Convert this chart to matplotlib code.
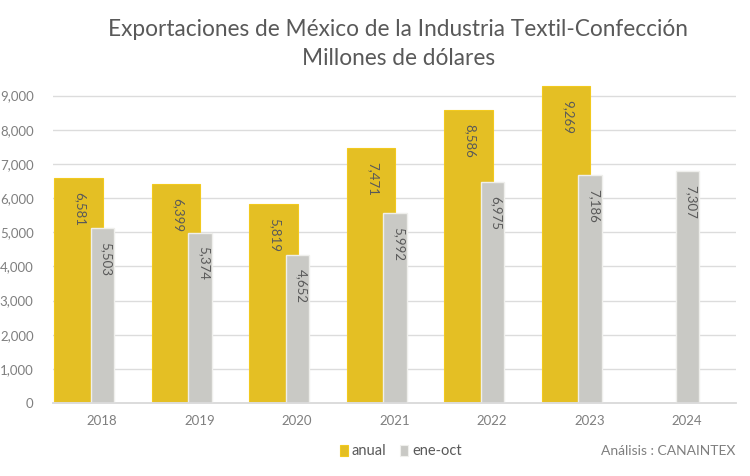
import numpy as np
import matplotlib.pyplot as plt

years = ['2018', '2019', '2020', '2021', '2022', '2023', '2024']
anual = [6581, 6399, 5819, 7471, 8586, 9269, None]
ene_oct = [5503, 5374, 4652, 5992, 6975, 7186, 7307]

plt.rcParams['font.family'] = ['Lato', 'DejaVu Sans']

fig = plt.figure(figsize=(7.5, 4.76), dpi=100)
ax = fig.add_axes([0.0707, 0.1534, 0.9103, 0.7033])
ax2 = ax.twinx()

x = np.arange(len(years))
ytop = 9800
ax.set_ylim(0, ytop)
ax2.set_ylim(0, ytop * 1.077)
ax.set_xlim(-0.5, len(years) - 0.5)

yellow = '#E4BF24'
grey = '#C9C9C5'
txt = '#595959'

a_x = [i for i, v in enumerate(anual) if v is not None]
a_v = [v for v in anual if v is not None]
ax.bar(np.array(a_x) - 0.24, a_v, width=0.5, color=yellow, edgecolor='#F2C91E',
       linewidth=0.8, zorder=2)
ax2.bar(x + 0.005, ene_oct, width=0.24, color=grey, edgecolor='#EFEFEC',
        linewidth=1.0, zorder=2)

for xi, v in zip(a_x, a_v):
    ax.annotate(f'{v:,}', (xi - 0.22, v), xytext=(0, -10), textcoords='offset points',
                rotation=270, ha='center', va='top', fontsize=9.5, color=txt)
for xi, v in zip(x, ene_oct):
    ax2.annotate(f'{v:,}', (xi + 0.045, v), xytext=(0, -10), textcoords='offset points',
                 rotation=270, ha='center', va='top', fontsize=9.5, color=txt)

ax.set_yticks(range(0, 10000, 1000))
ax.set_yticklabels([f'{t:,}' for t in range(0, 10000, 1000)])
ax.yaxis.grid(True, color='#DCDCDC', linewidth=1.0, zorder=0)
ax.set_axisbelow(True)
ax.tick_params(axis='y', length=0, labelsize=9.5, labelcolor='#7F7F7F', pad=14)
ax.set_xticks(x)
ax.set_xticklabels(years)
ax.tick_params(axis='x', length=0, labelsize=9.5, labelcolor='#7F7F7F', pad=9)
ax2.set_yticks([])

for a in (ax, ax2):
    for s in ('top', 'right', 'left'):
        a.spines[s].set_visible(False)
    a.spines['bottom'].set_color('#DCDCDC')
    a.spines['bottom'].set_linewidth(1.2)

fig.text(0.531, 0.937, 'Exportaciones de México de la Industria Textil-Confección',
         ha='center', va='center', fontsize=16.3, color=txt)
fig.text(0.531, 0.878, 'Millones de dólares', ha='center', va='center',
         fontsize=16.3, color=txt)

# legend
fig.patches.append(plt.Rectangle((0.4533, 0.041), 0.0107, 0.0235, transform=fig.transFigure,
                                 facecolor=yellow, edgecolor='#F2C91E', linewidth=0.8))
fig.text(0.4693, 0.052, 'anual', ha='left', va='center', fontsize=10.5, color=txt)
fig.patches.append(plt.Rectangle((0.5333, 0.041), 0.0107, 0.0235, transform=fig.transFigure,
                                 facecolor=grey, edgecolor='#EFEFEC', linewidth=0.8))
fig.text(0.5493, 0.052, 'ene-oct', ha='left', va='center', fontsize=10.5, color=txt)
fig.text(0.98, 0.052, 'Análisis : CANAINTEX', ha='right', va='center', fontsize=10,
         color='#7F7F7F')

fig.savefig('out.png', dpi=100)
